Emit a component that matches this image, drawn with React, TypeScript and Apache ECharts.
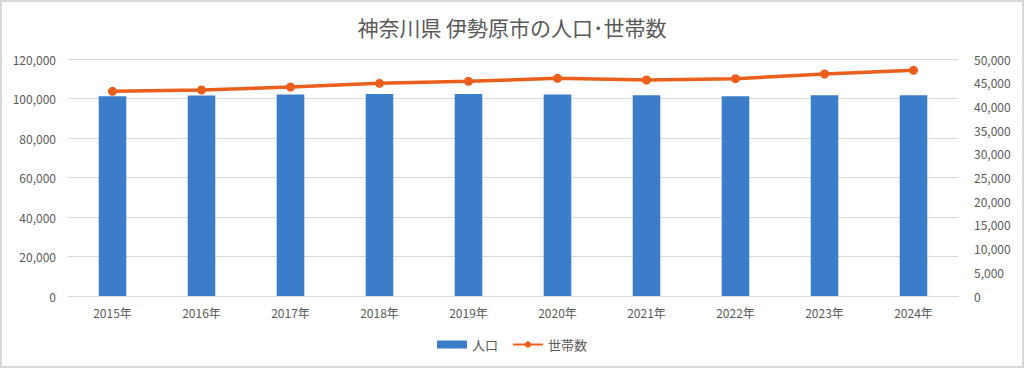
import React, { useEffect, useRef } from "react";
import * as echarts from "echarts";

const categories = ["2015年", "2016年", "2017年", "2018年", "2019年", "2020年", "2021年", "2022年", "2023年", "2024年"];
const population = [101200, 101500, 102000, 102300, 102300, 102000, 101700, 101200, 101700, 101600];
const households = [43190, 43460, 44090, 44870, 45290, 45920, 45570, 45850, 46840, 47620];
const titleText = "神奈川県 伊勢原市の人口･世帯数";

const FONT = "'Noto Sans CJK JP', 'Noto Sans', sans-serif";
const TEXT_COLOR = "#595959";

export default function App() {
  const ref = useRef<HTMLDivElement>(null);
  useEffect(() => {
    if (!ref.current) return;
    const chart = echarts.init(ref.current, null, { renderer: "svg" });
    chart.setOption({
      animation: false,
      backgroundColor: "#ffffff",
      textStyle: { fontFamily: FONT },
      title: {
        text: titleText,
        left: "center",
        top: 11,
        textStyle: { fontFamily: FONT, fontSize: 21, fontWeight: "normal", color: TEXT_COLOR },
      },
      graphic: [
        {
          type: "rect",
          shape: { x: 1, y: 1, width: 1022, height: 366 },
          style: { fill: "none", stroke: "#d9d9d9", lineWidth: 2 },
          silent: true,
        },
      ],
      legend: {
        bottom: 12,
        left: "center",
        itemGap: 14,
        itemWidth: 30,
        itemHeight: 8,
        textStyle: { fontFamily: FONT, fontSize: 13, color: TEXT_COLOR },
        data: [
          { name: "人口", icon: "rect" },
          { name: "世帯数" },
        ],
      },
      grid: { left: 68, right: 66, top: 59, bottom: 72 },
      xAxis: {
        type: "category",
        data: categories,
        axisLine: { lineStyle: { color: "#d9d9d9" } },
        axisTick: { show: false },
        axisLabel: { color: TEXT_COLOR, fontSize: 12, margin: 10, fontFamily: FONT },
      },
      yAxis: [
        {
          type: "value",
          min: 0,
          max: 120000,
          interval: 20000,
          axisLine: { show: false },
          axisTick: { show: false },
          axisLabel: {
            color: TEXT_COLOR,
            fontSize: 12,
            margin: 12,
            fontFamily: FONT,
            formatter: (v: number) => v.toLocaleString("en-US"),
          },
          splitLine: { lineStyle: { color: "#d9d9d9", width: 1 } },
        },
        {
          type: "value",
          min: 0,
          max: 50000,
          interval: 5000,
          axisLine: { show: false },
          axisTick: { show: false },
          axisLabel: {
            color: TEXT_COLOR,
            fontSize: 12,
            margin: 16,
            fontFamily: FONT,
            formatter: (v: number) => v.toLocaleString("en-US"),
          },
          splitLine: { show: false },
        },
      ],
      series: [
        {
          name: "人口",
          type: "bar",
          data: population,
          barWidth: "31%",
          itemStyle: { color: "#3c7dc9" },
          yAxisIndex: 0,
        },
        {
          name: "世帯数",
          type: "line",
          data: households,
          yAxisIndex: 1,
          symbol: "circle",
          symbolSize: 9,
          lineStyle: { color: "#ea5f1c", width: 3.5 },
          itemStyle: { color: "#ea5f1c" },
        },
      ],
    });
    return () => chart.dispose();
  }, []);
  return (
    <div style={{ position: "fixed", left: 0, top: 0, width: 1024, height: 368 }}>
      <div ref={ref} style={{ width: 1024, height: 368 }} />
    </div>
  );
}
